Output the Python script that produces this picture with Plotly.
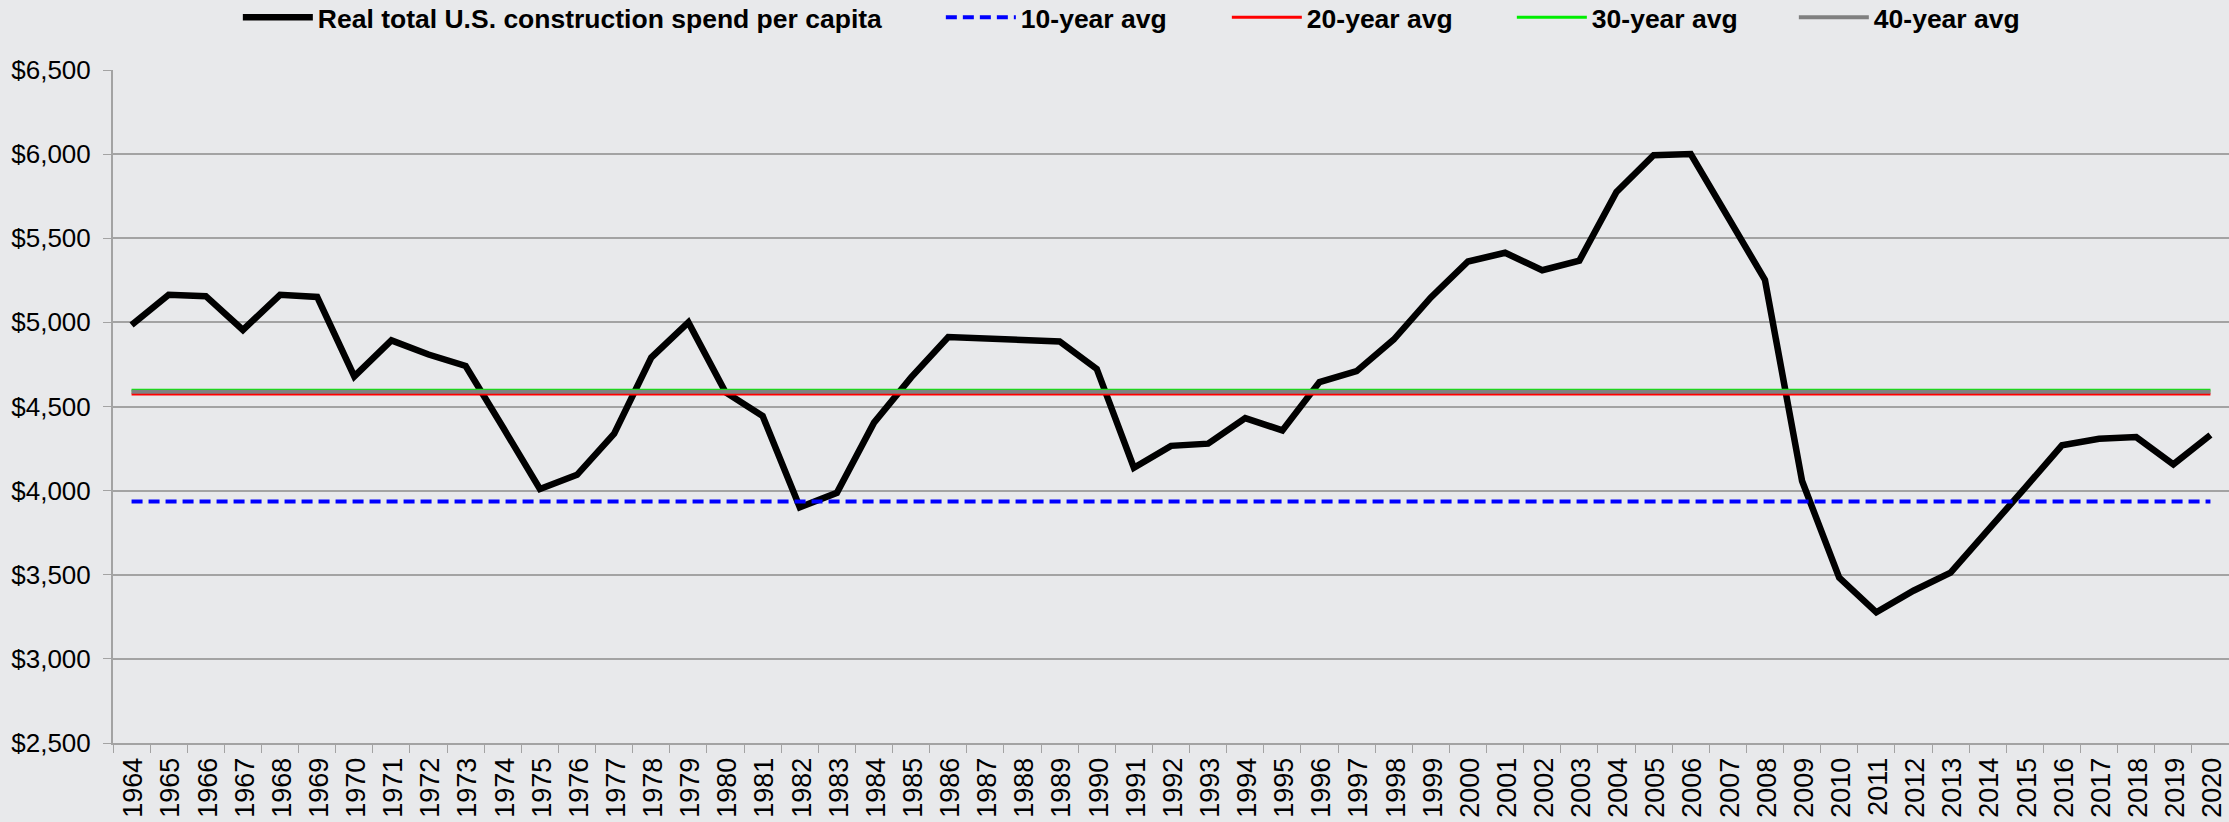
import plotly.graph_objects as go

years = [str(y) for y in range(1964, 2021)]
spend_per_capita = [
    4984, 5164, 5156, 4955, 5164, 5151, 4679, 4893, 4809, 4741,
    4378, 4010, 4094, 4339, 4791, 5000, 4585, 4444, 3901, 3987,
    4404, 4673, 4913, 4903, 4898, 4887, 4723, 4136, 4266, 4279,
    4431, 4358, 4645, 4710, 4898, 5148, 5362, 5414, 5310, 5367,
    5775, 5994, 6000, 5626, 5253, 4057, 3483, 3277, 3405, 3512,
    3770, 4015, 4269, 4308, 4318, 4156, 4331,
]
avg_10yr = 3935
avg_20yr = 4575
avg_30yr = 4596
avg_40yr = 4587

series_names = [
    "Real total U.S. construction spend per capita",
    "10-year avg",
    "20-year avg",
    "30-year avg",
    "40-year avg",
]
y_ticks = [2500, 3000, 3500, 4000, 4500, 5000, 5500, 6000, 6500]
y_tick_labels = ["$2,500", "$3,000", "$3,500", "$4,000", "$4,500",
                 "$5,000", "$5,500", "$6,000", "$6,500"]

BG = "#E8E9EB"
GRID = "#A3A3A3"

fig = go.Figure()
fig.add_trace(go.Scatter(
    x=years, y=spend_per_capita, mode="lines", name=series_names[0],
    line=dict(color="black", width=6.5), legendwidth=618,
))
fig.add_trace(go.Scatter(
    x=years, y=[avg_10yr] * len(years), mode="lines", name=series_names[1],
    line=dict(color="#0000FF", width=4, dash="11px,6px"), legendwidth=201,
))
fig.add_trace(go.Scatter(
    x=years, y=[avg_20yr] * len(years), mode="lines", name=series_names[2],
    line=dict(color="#FF0000", width=3), legendwidth=200,
))
fig.add_trace(go.Scatter(
    x=years, y=[avg_30yr] * len(years), mode="lines", name=series_names[3],
    line=dict(color="#00EE00", width=3), legendwidth=197,
))
fig.add_trace(go.Scatter(
    x=years, y=[avg_40yr] * len(years), mode="lines", name=series_names[4],
    line=dict(color="#808080", width=4), legendwidth=200,
))

fig.update_layout(
    width=2229, height=822,
    margin=dict(l=113, r=0, t=70, b=79, autoexpand=False),
    paper_bgcolor=BG, plot_bgcolor=BG,
    font=dict(family="Liberation Sans, Arial, sans-serif", size=26, color="black"),
    showlegend=True,
    hovermode=False,
    legend=dict(
        orientation="h", x=0.059, xanchor="left", y=1.078, yanchor="middle",
        bgcolor="rgba(0,0,0,0)", itemwidth=70,
        font=dict(family="Liberation Sans, Arial, sans-serif",
                  size=26.5, color="black", weight="bold"),
    ),
)
fig.update_xaxes(
    type="category", categoryorder="array", categoryarray=years,
    range=[-0.5, len(years) - 0.5],
    showgrid=False, showline=True, linecolor=GRID, linewidth=2,
    ticks="outside", tickson="boundaries", ticklen=8, tickcolor=GRID, tickwidth=1,
    tickangle=-90, tickfont=dict(size=27), ticklabelstandoff=2,
    ticklabelshift=2, ticklabeloverflow="allow",
)
fig.update_yaxes(
    range=[2500, 6500], tickvals=y_ticks, ticktext=y_tick_labels,
    showgrid=True, gridcolor=GRID, gridwidth=1.5,
    showline=True, linecolor=GRID, linewidth=2,
    ticks="outside", ticklen=8, tickcolor=GRID, tickwidth=1,
    tickfont=dict(size=26), ticklabelstandoff=7, zeroline=False,
)

fig.write_html(
    "out.html",
    config={"displayModeBar": False},
    post_script="document.body.style.margin='0';document.body.style.overflow='hidden';",
)
